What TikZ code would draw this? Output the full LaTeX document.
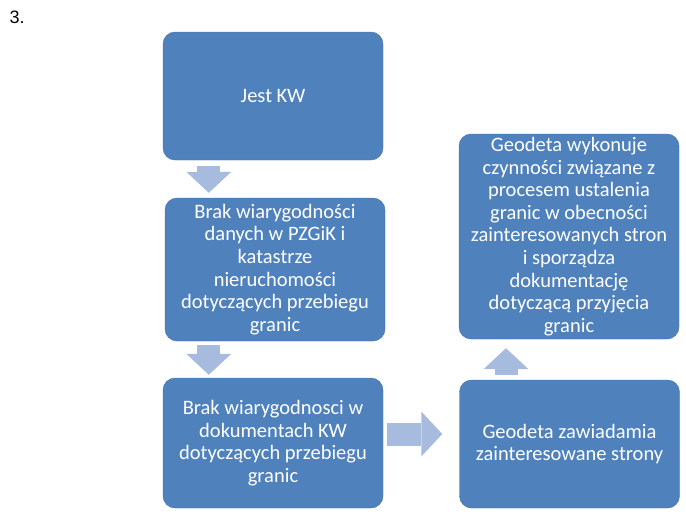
\documentclass[tikz,border=0pt]{standalone}
\usepackage{fontspec}
\setmainfont{Carlito}
\newfontfamily\arialfont{Liberation Sans}
\usetikzlibrary{arrows.meta, calc}
\definecolor{boxblue}{RGB}{79,129,189}
\definecolor{boxedge}{RGB}{68,112,165}
\definecolor{arrowblue}{RGB}{167,187,222}

\begin{document}
\begin{tikzpicture}[x=1pt, y=-1pt,
  box/.style={draw=boxedge, fill=boxblue, rounded corners=12pt, text=white,
    align=center, inner sep=0pt, minimum width=220pt,
    font=\fontsize{20.5}{22.6}\selectfont},
  bigarrow/.style={arrowblue, line width=23pt,
    -{Triangle[length=21pt, width=45pt, line width=0pt]}}]
  \useasboundingbox (0,0) rectangle (686,514);
  \node[anchor=north west, font=\arialfont\fontsize{18}{20}\selectfont] (nr) at (6,7) {3.};
  % left column
  \node[box, minimum height=128pt] (jest) at (273,96) {Jest KW};
  \node[box, minimum height=143pt] (brak) at (275,269.5)
    {Brak wiarygodności\\ danych w PZGiK i\\ katastrze\\ nieruchomości\\ dotyczących przebiegu\\ granic};
  \node[box, minimum height=130pt] (brakkw) at (273,443)
    {Brak wiarygodnosci w\\ dokumentach KW\\ dotyczących przebiegu\\ granic};
  % right column
  \node[box, minimum height=128pt] (zawiad) at (569.5,444)
    {Geodeta zawiadamia\\ zainteresowane strony};
  \node[box, minimum height=205pt] (geodeta) at (569,236.5)
    {Geodeta wykonuje\\ czynności związane z\\ procesem ustalenia\\ granic w obecności\\ zainteresowanych stron\\ i sporządza\\ dokumentację\\ dotyczącą przyjęcia\\ granic};
  % block arrows
  \draw[bigarrow] ($(jest.south west)+(46,6)$) -- ($(brak.north west)+(44,-5)$);
  \draw[bigarrow] ($(brak.south west)+(44,4)$) -- ($(brakkw.north west)+(46,-3)$);
  \draw[bigarrow] ($(brakkw.east)+(4,-9)$) -- ($(zawiad.west)+(-17,-10)$);
  \draw[bigarrow] ($(zawiad.north)+(-63.5,-5)$) -- ($(geodeta.south)+(-63,9)$);
\end{tikzpicture}
\end{document}
